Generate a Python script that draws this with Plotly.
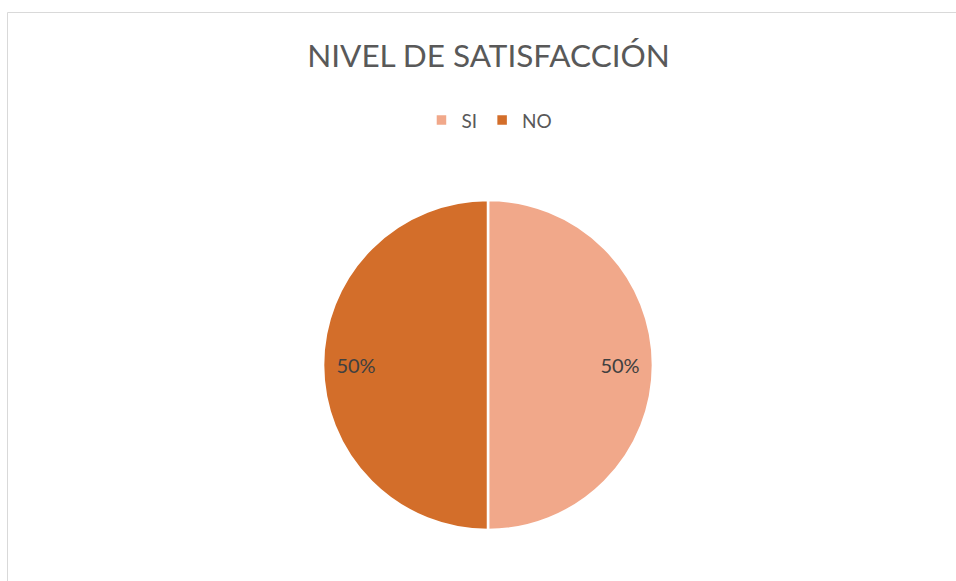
import plotly.graph_objects as go

labels = ["SI", "NO"]
values = [50, 50]
colors = ["#F1A88A", "#D36E2A"]

dom = dict(x=[323 / 956, 653 / 956], y=[(581 - 530) / 581, (581 - 200) / 581])

fig = go.Figure()
# filled pie
fig.add_trace(go.Pie(
    labels=labels, values=values, sort=False, direction="clockwise", rotation=0,
    marker=dict(colors=colors, line=dict(color="white", width=2.5)),
    textinfo="none", domain=dom, hoverinfo="label+percent",
))
# transparent ring that carries the percentage labels near the rim
fig.add_trace(go.Pie(
    labels=labels, values=values, sort=False, direction="clockwise", rotation=0, hole=0.6,
    marker=dict(colors=["rgba(0,0,0,0)"] * len(values), line=dict(width=0)),
    textinfo="percent", textposition="inside", insidetextorientation="horizontal",
    textfont=dict(family="Lato", size=20, color="#404040"),
    domain=dom, showlegend=False, hoverinfo="skip",
))
fig.update_layout(
    width=956, height=581,
    margin=dict(l=0, r=0, t=0, b=0),
    paper_bgcolor="white", plot_bgcolor="white",
    title=dict(text="NIVEL DE SATISFACCIÓN", x=0.511, xanchor="center", y=0.903, yanchor="middle",
               font=dict(family="Lato", size=31.5, color="#595959")),
    legend=dict(orientation="h", x=0.512, xanchor="center", y=0.793, yanchor="middle",
                font=dict(family="Lato", size=19, color="#595959"), itemwidth=30,
                traceorder="normal"),
    shapes=[
        dict(type="line", xref="paper", yref="paper", x0=7.5/956, x1=1.0, y0=1-12.5/581, y1=1-12.5/581,
             line=dict(color="#D9D9D9", width=1)),
        dict(type="line", xref="paper", yref="paper", x0=7.5/956, x1=7.5/956, y0=0, y1=1-12.5/581,
             line=dict(color="#D9D9D9", width=1)),
    ],
)
fig.write_html("out.html", config={"displayModeBar": False},
               post_script="document.body.style.margin='0';document.body.style.overflow='hidden';")
